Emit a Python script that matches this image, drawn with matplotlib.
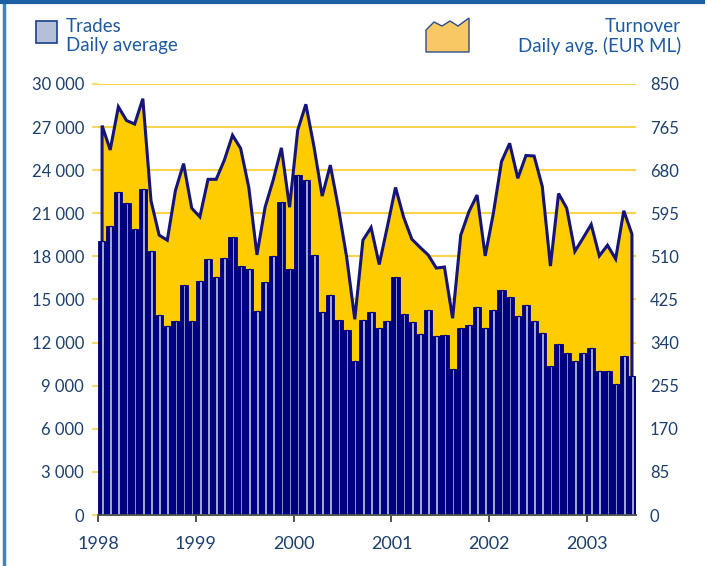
import matplotlib.pyplot as plt
import numpy as np
from matplotlib.patches import Rectangle, Polygon
from matplotlib.lines import Line2D

plt.rcParams['font.family'] = ['Lato', 'DejaVu Sans']

# monthly values, Jan 1998 .. Jun 2003
trades = [19100, 20100, 22450, 21700, 19900, 22700, 18400, 13950, 13150, 13500, 16000, 13500,
          16300, 17800, 16600, 17900, 19350, 17300, 17100, 14200, 16200, 18000, 21800, 17100,
          23650, 23300, 18100, 14100, 15300, 13600, 12850, 10750, 13600, 14100, 13050, 13500,
          16550, 14000, 13400, 12600, 14250, 12450, 12500, 10150, 13050, 13250, 14500, 13050,
          14250, 15650, 15200, 13850, 14600, 13500, 12650, 10350, 11900, 11300, 10750, 11300,
          11650, 10050, 10050, 9100, 11050, 9700]
turnover = [768, 720, 805, 778, 771, 821, 620, 552, 542, 640, 693, 605,
            588, 662, 662, 700, 749, 723, 646, 513, 607, 661, 724, 607,
            759, 810, 726, 629, 690, 605, 509, 386, 542, 567, 494, 569,
            646, 587, 544, 528, 513, 487, 489, 388, 552, 598, 631, 511,
            595, 697, 733, 664, 709, 708, 648, 491, 634, 605, 520, 546,
            573, 511, 532, 505, 600, 554]
years = ['1998', '1999', '2000', '2001', '2002', '2003']
left_ticks = [0, 3000, 6000, 9000, 12000, 15000, 18000, 21000, 24000, 27000, 30000]
right_ticks = [0, 85, 170, 255, 340, 425, 510, 595, 680, 765, 850]

navy = '#000080'
light = '#b4c0d8'
gold = '#ffcc00'
grid_col = '#f7d44c'
text_col = '#1d3f6e'

fig = plt.figure(figsize=(7.07, 5.66), dpi=100)
ax2 = fig.add_axes([0.1386, 0.0901, 0.761, 0.7615])
ax = ax2.twinx()
ax.yaxis.tick_left()
ax2.yaxis.tick_right()
ax.set_zorder(ax2.get_zorder() + 1)
ax.patch.set_visible(False)

x = np.arange(len(trades)) + 0.5

# turnover area (right axis)
xa = np.concatenate([[x[0]], x, [x[-1]]])
ya = np.concatenate([[0], turnover, [0]])
ax2.fill_between(x, turnover, 0, color=gold, lw=0, zorder=2)
ax2.plot(xa, ya, color='#14147a', lw=2.2, zorder=3, solid_joinstyle='miter')
ax2.set_ylim(0, 850)
ax2.set_yticks(right_ticks)
ax2.set_yticklabels([str(v) for v in right_ticks])
for v in right_ticks[1:]:
    ax2.axhline(v, color=grid_col, lw=1.5, zorder=1)

# trades bars (left axis)
ax.bar(x, trades, width=1.0, color=navy, edgecolor=navy, lw=0.6, zorder=3)
ax.bar(x + 0.05, trades, width=0.32, color=light, edgecolor=navy, lw=0.9, zorder=4)
ax.set_ylim(0, 30000)
ax.set_yticks(left_ticks)
ax.set_yticklabels([f'{v:,}'.replace(',', ' ') for v in left_ticks])

ax2.set_xlim(0, len(trades))
ax2.set_xticks(np.arange(0, 72, 12))
ax2.set_xticklabels(years)

for a in (ax, ax2):
    for s in ['top', 'right', 'left']:
        a.spines[s].set_visible(False)
    a.spines['bottom'].set_color('#555555')
    a.spines['bottom'].set_linewidth(1.2)
    a.spines['bottom'].set_zorder(10)

ax.tick_params(axis='y', colors=grid_col, labelcolor=text_col, length=4, width=1.2, pad=6, labelsize=12)
ax2.tick_params(axis='y', length=0, pad=10, labelcolor=text_col, labelsize=12)
ax2.tick_params(axis='x', colors='#333333', labelcolor=text_col, length=5, width=1.2, pad=10, labelsize=13)

# legend
fig.patches.append(Rectangle((36 / 707, 1 - 43 / 566), 21 / 707, 22 / 566, transform=fig.transFigure,
                             facecolor=light, edgecolor='#1c3f8a', lw=1.2))
fig.text(66 / 707, 1 - 27 / 566, 'Trades', color='#1f5aa0', fontsize=13.5, va='center')
fig.text(66 / 707, 1 - 46 / 566, 'Daily average', color='#1f5aa0', fontsize=13.5, va='center')
icon = [(426, 52), (426, 30), (434, 22), (442, 26), (450, 21), (458, 26), (469, 18), (469, 52)]
fig.patches.append(Polygon([(px / 707, 1 - py / 566) for px, py in icon], closed=True,
                           transform=fig.transFigure, facecolor='#f8c864', edgecolor='#2a4f8a', lw=1))
fig.text(681 / 707, 1 - 27 / 566, 'Turnover', color='#1f5aa0', fontsize=13.5, va='center', ha='right')
fig.text(681 / 707, 1 - 46 / 566, 'Daily avg. (EUR ML)', color='#1f5aa0', fontsize=13.5, va='center', ha='right')

# frame
fig.lines.append(Line2D([4 / 707, 4 / 707], [0, 1], transform=fig.transFigure, color='#3a86c6', lw=2.5))
fig.lines.append(Line2D([0, 703 / 707], [1 - 2 / 566, 1 - 2 / 566], transform=fig.transFigure, color='#1c5fa4', lw=3))

fig.savefig('out.png', dpi=100)
